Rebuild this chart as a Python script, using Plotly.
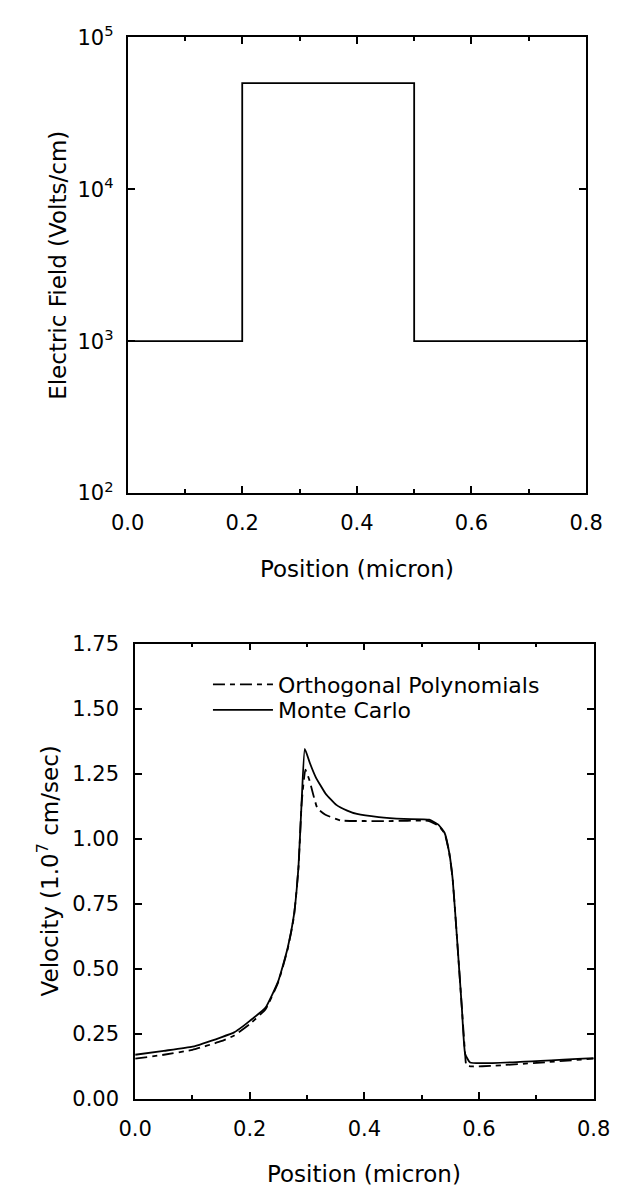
import plotly.graph_objects as go

# ---------------- data ----------------
# Top panel: electric field profile (step)
field_x = [0.0, 0.2, 0.2, 0.5, 0.5, 0.8]
field_y = [1.0e3, 1.0e3, 5.0e4, 5.0e4, 1.0e3, 1.0e3]

# Bottom panel: velocity (1e7 cm/sec)
mc_x = [0.0, 0.05, 0.1, 0.15, 0.1727, 0.189, 0.2, 0.2275, 0.2495, 0.266, 0.277, 0.285,
        0.2906, 0.296, 0.305, 0.315, 0.332, 0.351, 0.37, 0.387, 0.425, 0.469,
        0.513, 0.529, 0.54, 0.548, 0.554, 0.562, 0.57, 0.5757, 0.5845, 0.666, 0.8]
mc_v = [0.170, 0.185, 0.201, 0.237, 0.256, 0.281, 0.300, 0.351, 0.452, 0.579, 0.706, 0.895,
        1.149, 1.345, 1.290, 1.237, 1.174, 1.130, 1.108, 1.095, 1.083, 1.076,
        1.073, 1.054, 1.022, 0.946, 0.845, 0.604, 0.351, 0.174, 0.140, 0.142, 0.157]

op_x = [0.0, 0.05, 0.1, 0.15, 0.1727, 0.2, 0.2275, 0.2495, 0.266, 0.277, 0.285, 0.2906,
        0.297, 0.304, 0.318, 0.332, 0.359, 0.40, 0.45, 0.50, 0.513, 0.529, 0.54,
        0.548, 0.554, 0.562, 0.57, 0.5757, 0.578, 0.59, 0.62, 0.721, 0.8]
op_v = [0.155, 0.170, 0.189, 0.222, 0.244, 0.288, 0.345, 0.448, 0.575, 0.700, 0.890, 1.140,
        1.265, 1.225, 1.117, 1.092, 1.070, 1.068, 1.068, 1.070, 1.068, 1.050, 1.020,
        0.946, 0.845, 0.604, 0.351, 0.174, 0.128, 0.125, 0.127, 0.142, 0.155]

x_tickvals = [0.0, 0.2, 0.4, 0.6, 0.8]
x_ticktext = ["0.0", "0.2", "0.4", "0.6", "0.8"]
logy_tickvals = [1e2, 1e3, 1e4, 1e5]
logy_ticktext = ["10<sup>2</sup>", "10<sup>3</sup>", "10<sup>4</sup>", "10<sup>5</sup>"]
vel_tickvals = [0.0, 0.25, 0.5, 0.75, 1.0, 1.25, 1.5, 1.75]
vel_ticktext = ["0.00", "0.25", "0.50", "0.75", "1.00", "1.25", "1.50", "1.75"]

x_title = "Position (micron)"
field_title = "Electric Field (Volts/cm)"
vel_title = "Velocity (1.0<sup>7</sup> cm/sec)"
name_op = "Orthogonal Polynomials"
name_mc = "Monte Carlo"

# ---------------- layout geometry ----------------
W, H = 622, 1198
FONT = "DejaVu Sans"

def px(x):
    return x / W

def py(y):
    return 1 - y / H

top_x = [px(117), px(602)]
top_y = [py(489), py(23)]
bot_x = [px(125), px(610)]
bot_y = [py(1109), py(643)]

fig = go.Figure()

fig.add_trace(go.Scatter(x=field_x, y=field_y, mode="lines",
                         line=dict(color="black", width=1.8),
                         xaxis="x", yaxis="y", showlegend=False))

fig.add_trace(go.Scatter(x=op_x, y=op_v, mode="lines", name=name_op,
                         line=dict(color="black", width=1.8, dash="12px,5px,5px,5px",
                                   shape="spline", smoothing=0.4),
                         xaxis="x2", yaxis="y2", legend="legend"))
fig.add_trace(go.Scatter(x=mc_x, y=mc_v, mode="lines", name=name_mc,
                         line=dict(color="black", width=1.8,
                                   shape="spline", smoothing=0.4),
                         xaxis="x2", yaxis="y2", legend="legend2"))

axis_common = dict(showline=True, linecolor="black", linewidth=1.8, mirror="ticks",
                   ticks="inside", ticklen=7, tickwidth=1.5, tickcolor="black",
                   showgrid=False, zeroline=False,
                   tickfont=dict(family=FONT, size=21, color="black"))

legend_common = dict(xanchor="left", yanchor="middle",
                     bgcolor="rgba(0,0,0,0)", borderwidth=0,
                     font=dict(family=FONT, size=22, color="black"),
                     itemwidth=60)

fig.update_layout(
    width=W, height=H,
    margin=dict(l=0, r=0, t=0, b=0),
    paper_bgcolor="white", plot_bgcolor="white",
    font=dict(family=FONT, color="black"),
    xaxis=dict(domain=top_x, anchor="y", range=[0, 0.8],
               tickvals=x_tickvals, ticktext=x_ticktext,
               minor=dict(dtick=0.1, ticks="inside", ticklen=4, tickcolor="black"),
               ticklabelstandoff=10, **axis_common),
    yaxis=dict(domain=top_y, anchor="x", type="log", range=[2, 5],
               tickvals=logy_tickvals, ticktext=logy_ticktext,
               ticklabelstandoff=8, **axis_common),
    xaxis2=dict(domain=bot_x, anchor="y2", range=[0, 0.8],
                tickvals=x_tickvals, ticktext=x_ticktext,
                minor=dict(dtick=0.1, ticks="inside", ticklen=4, tickcolor="black"),
                ticklabelstandoff=10, **axis_common),
    yaxis2=dict(domain=bot_y, anchor="x2", range=[0, 1.75],
                tickvals=vel_tickvals, ticktext=vel_ticktext,
                ticklabelstandoff=10, **axis_common),
    legend=dict(x=px(202), y=py(685), **legend_common),
    legend2=dict(x=px(202), y=py(711), **legend_common),
    showlegend=True,
    annotations=[
        dict(text=x_title, x=px(359.5), y=py(567), xref="paper", yref="paper",
             showarrow=False, xanchor="center", yanchor="middle",
             font=dict(family=FONT, size=23, color="black")),
        dict(text=x_title, x=px(367.5), y=py(1186), xref="paper", yref="paper",
             showarrow=False, xanchor="center", yanchor="middle",
             font=dict(family=FONT, size=23, color="black")),
        dict(text=field_title, x=px(44), y=py(256), xref="paper", yref="paper",
             showarrow=False, xanchor="center", yanchor="middle", textangle=-90,
             font=dict(family=FONT, size=23, color="black")),
        dict(text=vel_title, x=px(33), y=py(876), xref="paper", yref="paper",
             showarrow=False, xanchor="center", yanchor="middle", textangle=-90,
             font=dict(family=FONT, size=23, color="black")),
    ],
)

fig.write_html("out.html")
